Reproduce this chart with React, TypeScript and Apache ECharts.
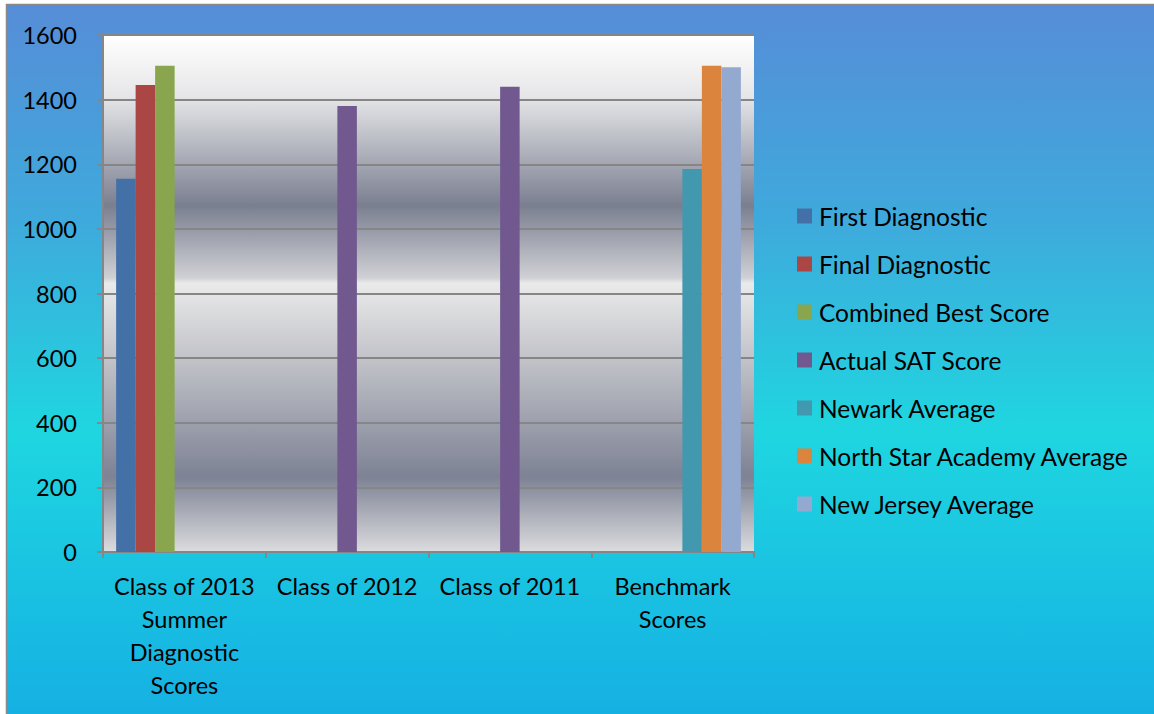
import React, { useEffect, useRef } from "react";
import * as echarts from "echarts";

const categories = [
  "Class of 2013\nSummer\nDiagnostic\nScores",
  "Class of 2012",
  "Class of 2011",
  "Benchmark\nScores",
];
const seriesNames = [
  "First Diagnostic",
  "Final Diagnostic",
  "Combined Best Score",
  "Actual SAT Score",
  "Newark Average",
  "North Star Academy Average",
  "New Jersey Average",
];
const firstDiagnostic = [1155, null, null, null];
const finalDiagnostic = [1445, null, null, null];
const combinedBest = [1505, null, null, null];
const actualSAT = [null, 1380, 1440, null];
const newarkAvg = [null, null, null, 1185];
const northStarAvg = [null, null, null, 1505];
const newJerseyAvg = [null, null, null, 1500];
const seriesValues = [
  firstDiagnostic,
  finalDiagnostic,
  combinedBest,
  actualSAT,
  newarkAvg,
  northStarAvg,
  newJerseyAvg,
];
const colors = ["#4470a8", "#aa4643", "#89a54e", "#71588f", "#4198af", "#db843d", "#93a9cf"];
const yTicks = { min: 0, max: 1600, interval: 200 };

const FONT = "Lato, 'Open Sans', sans-serif";

export default function App() {
  const ref = useRef<HTMLDivElement>(null);
  useEffect(() => {
    document.body.style.margin = "0";
    const chart = echarts.init(ref.current!, null, { renderer: "svg" });
    chart.setOption({
      animation: false,
      backgroundColor: "#ffffff",
      graphic: [
        {
          type: "rect",
          z: -10,
          silent: true,
          shape: { x: 6.5, y: 4.5, width: 1150, height: 712 },
          style: {
            stroke: "#8a8a8a",
            lineWidth: 1.5,
            fill: new echarts.graphic.LinearGradient(0, 0, 0, 1, [
              { offset: 0, color: "#568dd7" },
              { offset: 0.3, color: "#3fa9dc" },
              { offset: 0.6, color: "#1fd6e0" },
              { offset: 1, color: "#15b0e3" },
            ]),
          },
        },
      ],
      grid: {
        left: 103,
        top: 35,
        right: 400,
        bottom: 162,
        show: true,
        borderWidth: 0,
        backgroundColor: new echarts.graphic.LinearGradient(0, 0, 0, 1, [
          { offset: 0, color: "#ffffff" },
          { offset: 0.12, color: "#e6e6e8" },
          { offset: 0.33, color: "#7a7f90" },
          { offset: 0.47, color: "#d0d1d5" },
          { offset: 0.48, color: "#eaeaeb" },
          { offset: 0.62, color: "#c4c5ca" },
          { offset: 0.855, color: "#7d8294" },
          { offset: 1, color: "#dcdcdf" },
        ]),
      },
      legend: {
        orient: "vertical",
        left: 792,
        top: 187,
        itemWidth: 15,
        itemHeight: 15,
        itemGap: 0,
        icon: "rect",
        textStyle: {
          fontFamily: FONT,
          fontSize: 24.5,
          color: "#000",
          lineHeight: 48,
          padding: [0, 0, 0, 2],
        },
        data: seriesNames,
      },
      xAxis: {
        type: "category",
        data: categories,
        axisLine: { lineStyle: { color: "#868686", width: 2 } },
        axisTick: { show: true, length: 6, lineStyle: { color: "#868686", width: 2 } },
        axisLabel: {
          fontFamily: FONT,
          fontSize: 23.5,
          color: "#000",
          lineHeight: 33,
          margin: 17,
          interval: 0,
        },
      },
      yAxis: {
        type: "value",
        min: yTicks.min,
        max: yTicks.max,
        interval: yTicks.interval,
        axisLine: { show: true, lineStyle: { color: "#868686", width: 2 } },
        axisTick: { show: true, length: 6, lineStyle: { color: "#868686", width: 2 } },
        splitLine: { lineStyle: { color: "#868686", width: 2 } },
        axisLabel: {
          fontFamily: FONT,
          fontSize: 23.5,
          color: "#000",
          margin: 26,
          formatter: (v: number) => String(v),
        },
      },
      series: seriesNames.map((name, i) => ({
        name,
        type: "bar",
        data: seriesValues[i],
        barWidth: 19.5,
        barGap: "0%",
        itemStyle: { color: colors[i] },
      })),
    });
    return () => chart.dispose();
  }, []);
  return <div ref={ref} style={{ width: 1154, height: 714 }} />;
}
